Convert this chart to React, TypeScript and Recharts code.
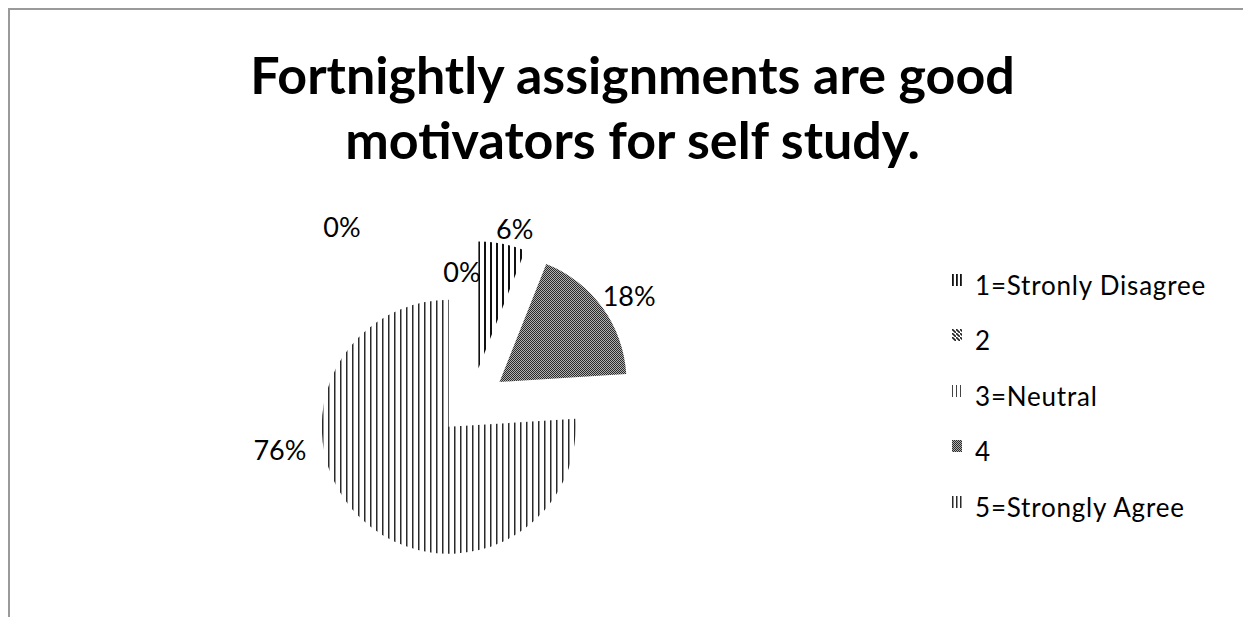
import React from "react";
import { Legend, Pie, PieChart, Sector } from "recharts";

const categories = [
  "1=Stronly Disagree",
  "2",
  "3=Neutral",
  "4",
  "5=Strongly Agree",
];
const shares = [6, 0, 0, 18, 76];
const titleLines = ["Fortnightly assignments are good", "motivators for self study."];

const data = categories.map((name, i) => ({ name, value: shares[i] }));

const FONT = "Lato, 'Open Sans', sans-serif";
const RAD = Math.PI / 180;
const EXPLODE = 34;
const patternIds = ["p-bold", "p-diag", "p-light", "p-dots", "p-thin"];

// Excel's "best fit" placement of the labels
// [angle clockwise from 12 o'clock, distance from pie centre]
const labelSpots: Record<number, [number, number]> = {
  0: [13.8, 179],
  1: [355.6, 131],
  2: [323.4, 218],
  3: [55.8, 190],
  4: [256, 198],
};

function PatternDefs({ suffix = "", step = 6 }: { suffix?: string; step?: number }) {
  return (
    <defs>
      <pattern id={"p-bold" + suffix} width={step} height={4} patternUnits="userSpaceOnUse">
        <rect x={0} y={0} width={step > 4 ? 2 : 1.8} height={4} fill="#111" />
      </pattern>
      <pattern id={"p-diag" + suffix} width={4} height={4} patternUnits="userSpaceOnUse">
        <line x1={0} y1={0} x2={4} y2={4} stroke="#222" strokeWidth={1.6} />
      </pattern>
      <pattern id={"p-light" + suffix} width={step} height={4} patternUnits="userSpaceOnUse">
        <rect x={0} y={0} width={1} height={4} fill="#444" />
      </pattern>
      <pattern id={"p-dots" + suffix} width={2} height={2} patternUnits="userSpaceOnUse">
        <rect x={0} y={0} width={2} height={2} fill="#b0b0b0" />
        <rect x={0} y={0} width={1} height={1} fill="#2a2a2a" />
        <rect x={1} y={1} width={1} height={1} fill="#2a2a2a" />
      </pattern>
      <pattern id={"p-thin" + suffix} width={step} height={4} patternUnits="userSpaceOnUse">
        <rect x={0} y={0} width={1.5} height={4} fill="#2a2a2a" />
      </pattern>
    </defs>
  );
}

const ExplodedSector = (props: any) => {
  const { cx, cy, startAngle, endAngle, index } = props;
  const mid = (startAngle + endAngle) / 2;
  return (
    <Sector
      {...props}
      cx={cx + EXPLODE * Math.cos(-mid * RAD)}
      cy={cy + EXPLODE * Math.sin(-mid * RAD)}
      fill={`url(#${patternIds[index]})`}
      stroke="none"
    />
  );
};

const renderLabel = (props: any) => {
  const { cx, cy, startAngle, endAngle, outerRadius, index } = props;
  const mid = (startAngle + endAngle) / 2;
  let angle = 90 - mid;
  let dist = outerRadius + EXPLODE + 22;
  if (labelSpots[index]) [angle, dist] = labelSpots[index];
  const x = cx + dist * Math.sin(angle * RAD);
  const y = cy - dist * Math.cos(angle * RAD);
  return (
    <text
      key={"lbl" + index}
      x={x}
      y={y}
      textAnchor="middle"
      dominantBaseline="central"
      fontFamily={FONT}
      fontSize={27}
      fill="#000"
    >
      {shares[index]}%
    </text>
  );
};

const LegendList = () => (
  <div style={{ fontFamily: FONT, fontSize: 26, letterSpacing: 0.8, color: "#000" }}>
    {categories.map((c, i) => (
      <div key={c} style={{ display: "flex", alignItems: "center", height: 55.5 }}>
        <svg width={11} height={12} style={{ marginRight: 12, marginTop: -10 }}>
          <PatternDefs suffix={"-lg" + i} step={4} />
          <rect x={0} y={0} width={10} height={12} fill={`url(#${patternIds[i]}-lg${i})`} />
        </svg>
        <span>{c}</span>
      </div>
    ))}
  </div>
);

export default function App() {
  return (
    <div
      style={{
        position: "relative",
        width: 1241,
        height: 617,
        marginBottom: -8,
        overflow: "hidden",
        boxSizing: "border-box",
        borderTop: "2px solid #9a9a9a",
        borderLeft: "2px solid #9a9a9a",
        borderRight: "1px solid #e4e4e4",
        background: "#fff",
      }}
    >
      <div
        style={{
          position: "absolute",
          left: 0,
          top: 32,
          width: 1245,
          textAlign: "center",
          fontFamily: FONT,
          fontWeight: 700,
          fontSize: 52,
          lineHeight: "65px",
          color: "#000",
        }}
      >
        {titleLines.map((t) => (
          <div key={t}>{t}</div>
        ))}
      </div>
      <PieChart
        width={1238}
        height={615}
        margin={{ top: 0, right: 0, bottom: 0, left: 0 }}
        style={{ position: "absolute", left: 0, top: 0 }}
      >
        <PatternDefs />
        <Pie
          data={data}
          dataKey="value"
          nameKey="name"
          cx={462}
          cy={392}
          outerRadius={127}
          startAngle={90}
          endAngle={-270}
          stroke="none"
          shape={ExplodedSector}
          label={renderLabel}
          labelLine={false}
          isAnimationActive={false}
        />
        <Legend
          layout="vertical"
          align="right"
          verticalAlign="top"
          content={LegendList}
          wrapperStyle={{ left: 942, top: 247, width: 295 }}
        />
      </PieChart>
    </div>
  );
}
